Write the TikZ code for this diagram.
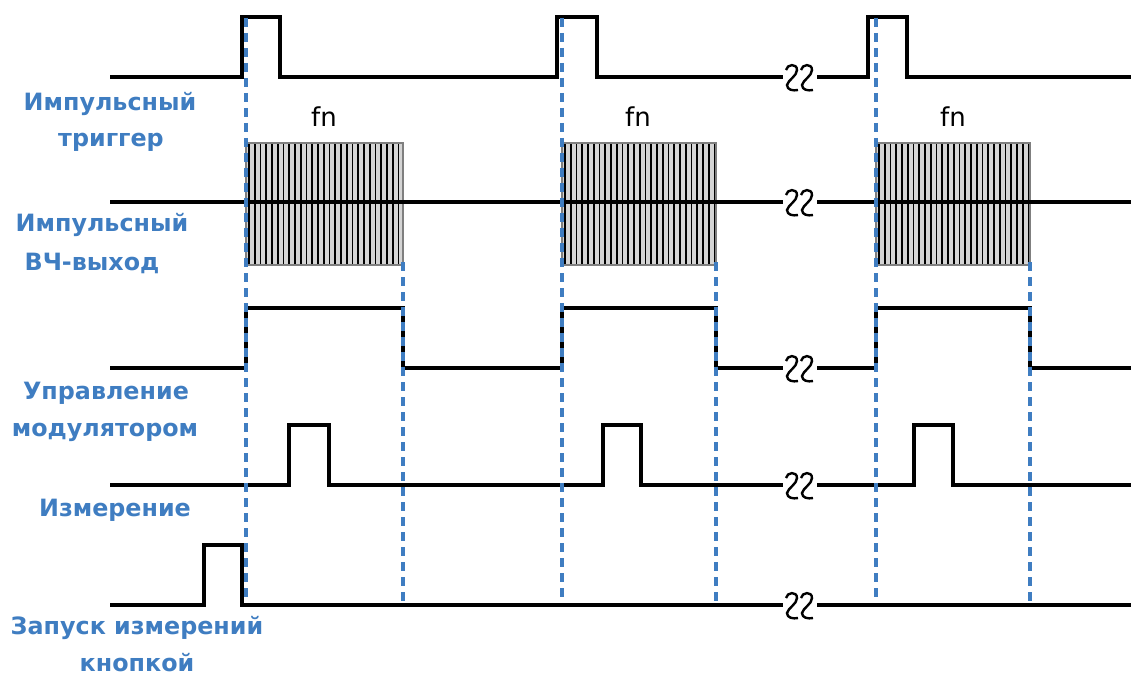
\documentclass[tikz,border=0pt]{standalone}
\usepackage{fontspec}
\newfontfamily\labelfont{DejaVu Sans}
\usetikzlibrary{calc}
\definecolor{SigInk}{HTML}{000000}
\definecolor{SigBlue}{HTML}{3F7DC1}
\definecolor{SigHatch}{HTML}{D4D4D4}
\definecolor{SigGrey}{HTML}{7F7F7F}
\tikzset{
  every node/.style={inner sep=0pt},
  signal/.style={draw=SigInk, line width=3.3pt},
  marker/.style={draw=SigBlue, line width=4pt, dash pattern=on 9pt off 6pt},
  hatch/.style={draw=SigInk, line width=1.8pt},
  siglabel/.style={font=\labelfont\bfseries\fontsize{23.8}{23.8}\selectfont, text=SigBlue},
  freq/.style={font=\labelfont\fontsize{26}{26}\selectfont, text=SigInk},
  gap/.style={draw=SigInk, line width=2.4pt},
  breakmark/.pic={
    \foreach \g in {0,15} {
      \draw[gap] (\g+1,-7) .. controls (\g+2,-13) and (\g+12,-14) .. (\g+12,-7)
        .. controls (\g+12,-1) and (\g+3,3) .. (\g+2,8)
        .. controls (\g+2,13) and (\g+8,14) .. (\g+13,13);
    }
  },
}

\begin{document}
\begin{tikzpicture}[x=1pt, y=-1pt]
  \useasboundingbox (0,0) rectangle (1131,676);
  % RF bursts
  \foreach \a/\b in {246/403, 562/716, 876/1030} {
    \fill[SigHatch] (\a,143) rectangle (\b,265);
    \foreach \k in {0,...,26}
      \draw[hatch] ({\a+3+5.75*\k},143) -- ++(0,122);
    \draw[SigGrey, line width=1.5pt] (\a,143) rectangle (\b,265);
  }
  % Signals
  \draw[signal] (110,77) -- (242,77) -- (242,17) -- (280,17) -- (280,77)
    -- (557,77) -- (557,17) -- (597,17) -- (597,77) -- (783,77)
    (817,77) -- (868,77) -- (868,17) -- (907,17) -- (907,77) -- (1131,77);
  \draw[signal] (110,202) -- (783,202) (817,202) -- (1131,202);
  \draw[signal] (110,368) -- (246,368) -- (246,308) -- (403,308) -- (403,368)
    -- (562,368) -- (562,308) -- (716,308) -- (716,368) -- (783,368)
    (817,368) -- (876,368) -- (876,308) -- (1030,308) -- (1030,368) -- (1131,368);
  \draw[signal] (110,485) -- (289,485) -- (289,425) -- (329,425) -- (329,485)
    -- (603,485) -- (603,425) -- (641,425) -- (641,485) -- (783,485)
    (817,485) -- (914,485) -- (914,425) -- (953,425) -- (953,485) -- (1131,485);
  \draw[signal] (110,605) -- (204,605) -- (204,545) -- (242,545) -- (242,605)
    -- (783,605) (817,605) -- (1131,605);
  % Breaks
  \foreach \y in {77,202,368,485,605}
    \pic at (785,\y) {breakmark};
  % Markers
  \foreach \x in {246,562,876}
    \draw[marker] (\x,18) -- (\x,602);
  \foreach \x in {403,716,1030}
    \draw[marker] (\x,262) -- (\x,602);
  % Labels
  \node[freq] (fnA) at (324,117) {fn};
  \node[freq] (fnB) at (638,117) {fn};
  \node[freq] (fnC) at (953,117) {fn};
  \node[siglabel] (trigA) at (110,104) {Импульсный};
  \node[siglabel] (trigB) at (111,142) {триггер};
  \node[siglabel] (rfA) at (102,225) {Импульсный};
  \node[siglabel] (rfB) at (92,263) {ВЧ-выход};
  \node[siglabel] (modA) at (106,393) {Управление};
  \node[siglabel] (modB) at (105,432) {модулятором};
  \node[siglabel] (meas) at (115,510) {Измерение};
  \node[siglabel] (startA) at (137,628) {Запуск измерений};
  \node[siglabel] (startB) at (137,663) {кнопкой};
\end{tikzpicture}
\end{document}
